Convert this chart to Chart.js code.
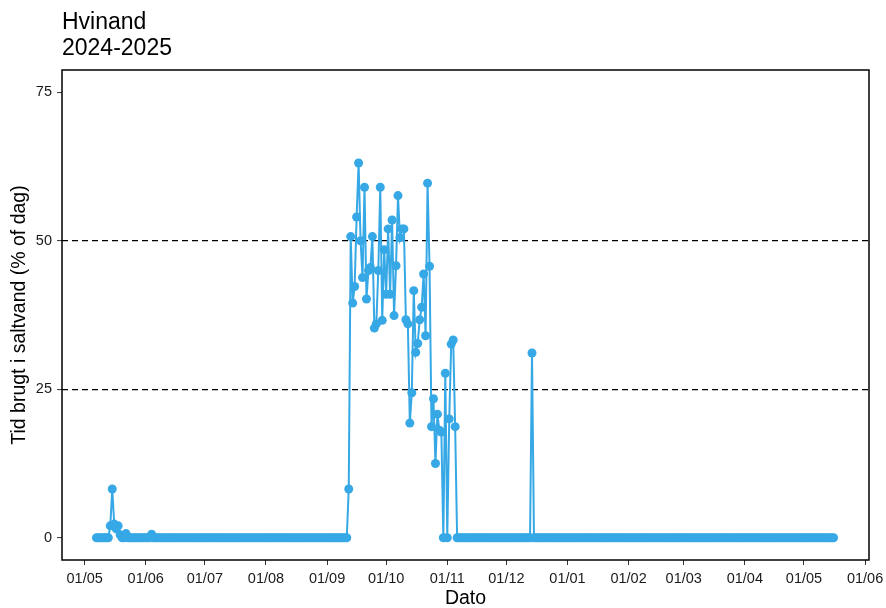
<!DOCTYPE html>
<html><head><meta charset="utf-8">
<script src="https://cdn.jsdelivr.net/npm/chart.js@4.4.1/dist/chart.umd.min.js"></script>
<style>html,body{margin:0;padding:0;background:#fff}#wrap{width:886px;height:608px}</style>
</head><body><div id="wrap"><canvas id="c" width="886" height="608"></canvas></div>
<script>
const titleLines = ['Hvinand', '2024-2025'];
const xTitle = 'Dato';
const yTitle = 'Tid brugt i saltvand (% of dag)';

// daily values, first day = startDate
const startDate = '2024-05-07';
const may2024 = [0,0,0,0,0,0,0,2.0,8.2,2.3, 1.5,2.0,0.5,0,0,0.7,0,0,0,0, 0,0,0,0,0]; // 7-31 May
const jun2024 = [0,0,0,0.6,0,0,0,0,0,0, 0,0,0,0,0,0,0,0,0,0, 0,0,0,0,0,0,0,0,0,0];
const jul2024 = [0,0,0,0,0,0,0,0,0,0, 0,0,0,0,0,0,0,0,0,0, 0,0,0,0,0,0,0,0,0,0, 0];
const aug2024 = [0,0,0,0,0,0,0,0,0,0, 0,0,0,0,0,0,0,0,0,0, 0,0,0,0,0,0,0,0,0,0, 0];
const sep2024 = [0,0,0,0,0,0,0,0,0,0, 0,8.2,50.7,39.5,42.3,54,63.1,50,43.8,59, 40.2,45,45.5,50.7,35.3,36,45,59,36.6,48.5];
const oct2024 = [41,52,41,53.5,37.4,45.8,57.6,50.5,52,52, 36.7,36,19.3,24.4,41.6,31.2,32.7,36.7,38.8,44.4, 34,59.7,45.7,18.7,23.4,12.5,20.8,18.1,17.8,0, 27.7];
const nov2024 = [0,20,32.6,33.3,18.7,0,0,0,0,0, 0,0,0,0,0,0,0,0,0,0, 0,0,0,0,0,0,0,0,0,0];
const dec2024 = [0,0,0,0,0,0,0,0,0,0, 0,0,0,31.1,0,0,0,0,0,0, 0,0,0,0,0,0,0,0,0,0, 0];
const jan2025 = [0,0,0,0,0,0,0,0,0,0, 0,0,0,0,0,0,0,0,0,0, 0,0,0,0,0,0,0,0,0,0, 0];
const feb2025 = [0,0,0,0,0,0,0,0,0,0, 0,0,0,0,0,0,0,0,0,0, 0,0,0,0,0,0,0,0];
const mar2025 = [0,0,0,0,0,0,0,0,0,0, 0,0,0,0,0,0,0,0,0,0, 0,0,0,0,0,0,0,0,0,0, 0];
const apr2025 = [0,0,0,0,0,0,0,0,0,0, 0,0,0,0,0,0,0,0,0,0, 0,0,0,0,0,0,0,0,0,0];
const may2025 = [0,0,0,0,0,0,0,0,0,0, 0,0,0,0,0,0]; // 1-16 May

const refLines = [25, 50];
const yTicks = [0, 25, 50, 75];
const tickDates = ['2024-05-01','2024-06-01','2024-07-01','2024-08-01','2024-09-01','2024-10-01','2024-11-01',
                   '2024-12-01','2025-01-01','2025-02-01','2025-03-01','2025-04-01','2025-05-01','2025-06-01'];
const tickLabels = ['01/05','01/06','01/07','01/08','01/09','01/10','01/11','01/12','01/01','01/02','01/03','01/04','01/05','01/06'];

const DAY = 86400000;
const epoch = Date.UTC(2024, 4, 1);
const toDay = s => { const [y,m,d] = s.split('-').map(Number); return (Date.UTC(y, m-1, d) - epoch) / DAY; };
const values = [].concat(may2024, jun2024, jul2024, aug2024, sep2024, oct2024, nov2024, dec2024,
                         jan2025, feb2025, mar2025, apr2025, may2025);
const startDay = toDay(startDate);
const points = values.map((v, i) => ({x: startDay + i, y: v}));
const tickDays = tickDates.map(toDay);

const COLOR = '#36a8e6';
const FONT = "'Liberation Sans', Arial, sans-serif";

const boxPlugin = {
  id: 'box',
  afterDatasetsDraw(chart) {
    const {ctx, chartArea: a} = chart;
    ctx.save();
    ctx.strokeStyle = '#000';
    ctx.lineWidth = 1.5;
    ctx.strokeRect(a.left, a.top, a.right - a.left, a.bottom - a.top);
    ctx.restore();
  },
  afterDraw(chart) {
    const {ctx, chartArea: a} = chart;
    ctx.save();
    ctx.fillStyle = '#000';
    ctx.font = "23px " + FONT;
    ctx.textAlign = 'left';
    ctx.textBaseline = 'alphabetic';
    ctx.fillText(titleLines[0], a.left, 29);
    ctx.fillText(titleLines[1], a.left, 55);
    ctx.restore();
  }
};

new Chart(document.getElementById('c'), {
  type: 'line',
  data: {
    datasets: [{
      data: points,
      borderColor: COLOR,
      backgroundColor: COLOR,
      pointBackgroundColor: COLOR,
      pointBorderColor: COLOR,
      pointBorderWidth: 0,
      pointRadius: 4.5,
      borderWidth: 2,
      tension: 0,
      fill: false
    }]
  },
  options: {
    responsive: false,
    devicePixelRatio: 1,
    animation: false,
    layout: {padding: {left: 4, right: 17, top: 70, bottom: 0}},
    plugins: {legend: {display: false}, tooltip: {enabled: false}, title: {display: false}},
    scales: {
      x: {
        type: 'linear',
        min: -11.5, max: 398,
        afterBuildTicks: s => { s.ticks = tickDays.map(v => ({value: v})); },
        afterFit: s => { s.height = 48; s.paddingLeft = 0; s.paddingRight = 0; },
        ticks: {
          callback: (v) => { const i = tickDays.indexOf(v); return i >= 0 ? tickLabels[i] : ''; },
          font: {family: FONT, size: 14.5}, color: '#1a1a1a', padding: 5, maxRotation: 0, autoSkip: false
        },
        grid: {color: 'transparent', tickColor: '#333', tickLength: 5, tickWidth: 1, drawOnChartArea: false},
        border: {display: false},
        title: {display: true, text: xTitle, font: {family: FONT, size: 19.5, lineHeight: 1.0}, color: '#000', padding: {top: 0, bottom: 0}}
      },
      y: {
        type: 'linear',
        min: -3.75, max: 78.75,
        afterBuildTicks: s => { s.ticks = yTicks.map(v => ({value: v})); },
        afterFit: s => { s.width = 58; s.paddingTop = 0; s.paddingBottom = 0; },
        ticks: {font: {family: FONT, size: 14.5}, color: '#1a1a1a', padding: 5},
        grid: {
          color: c => refLines.includes(c.tick && c.tick.value) ? '#000' : 'transparent',
          lineWidth: 1.2, tickColor: '#333', tickLength: 5, tickWidth: 1
        },
        border: {display: false, dash: [6, 4]},
        title: {display: true, text: yTitle, font: {family: FONT, size: 19.5, lineHeight: 1.0}, color: '#000', padding: {top: 6, bottom: 0}}
      }
    }
  },
  plugins: [boxPlugin]
});
</script>
</body></html>
